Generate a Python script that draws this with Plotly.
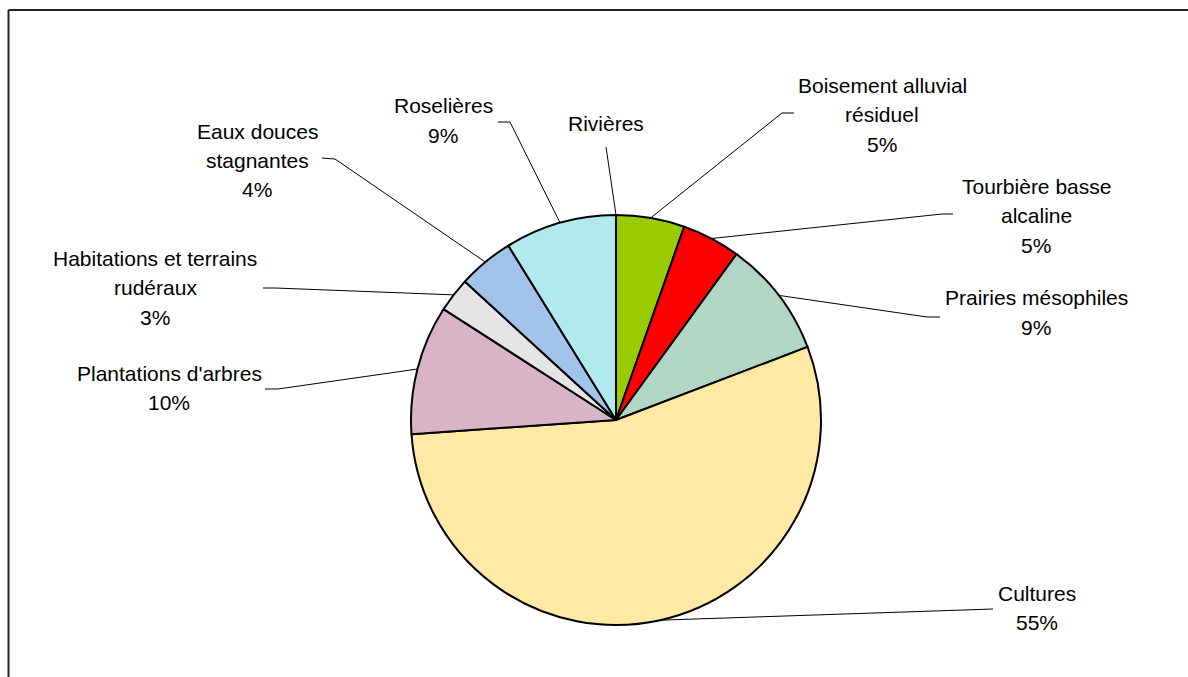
import math
import plotly.graph_objects as go

# ---------------- data ----------------
categories = [
    "Rivières",
    "Boisement alluvial résiduel",
    "Tourbière basse alcaline",
    "Prairies mésophiles",
    "Cultures",
    "Plantations d'arbres",
    "Habitations et terrains rudéraux",
    "Eaux douces stagnantes",
    "Roselières",
]
values = [0.0, 5.4, 4.6, 9.2, 54.7, 10.2, 2.7, 4.4, 8.8]
show_percent = [False, True, True, True, True, True, True, True, True]
label_lines = [
    ["Rivières"],
    ["Boisement alluvial", "résiduel"],
    ["Tourbière basse", "alcaline"],
    ["Prairies mésophiles"],
    ["Cultures"],
    ["Plantations d'arbres"],
    ["Habitations et terrains", "rudéraux"],
    ["Eaux douces", "stagnantes"],
    ["Roselières"],
]
colors = ["#9DD0EC", "#99CC00", "#FF0000", "#B2D6C6", "#FFE9A5",
          "#D9B3C6", "#E5E5E5", "#A2C4EA", "#B1E9EC"]

# ---------------- layout constants (screen pixels) ----------------
W, H = 1188, 677
CX, CY, R = 616, 420, 205
FONT = dict(family="Liberation Sans, Arial, sans-serif", size=21, color="black")
LINE_GAP = 29.5

# label text centre x, first line centre y, leader-line start points (label side)
label_pos = [
    (606, 123, [(606, 147)]),
    (882, 85, [(794, 113), (782, 113)]),
    (1036, 186, [(953, 214), (942, 214)]),
    (1036, 298, [(940, 317), (927, 317)]),
    (1037, 593, [(993, 609)]),
    (169, 373, [(265, 389), (278, 389)]),
    (155, 258, [(263, 288), (275, 288)]),
    (257, 131, [(322, 158), (335, 159)]),
    (443, 106, [(498, 122), (510, 122)]),
]


def px(x):
    return x / W


def py(y):
    return 1 - y / H


total = sum(values)

fig = go.Figure(
    go.Pie(
        labels=categories,
        values=values,
        sort=False,
        direction="clockwise",
        rotation=0,
        marker=dict(colors=colors, line=dict(color="black", width=2)),
        textinfo="none",
        hoverinfo="label+percent",
        domain=dict(x=[px(CX - R), px(CX + R)], y=[py(CY + R), py(CY - R)]),
        showlegend=False,
    )
)

annotations = []
shapes = []
cum = 0.0
for i, v in enumerate(values):
    theta = 2 * math.pi * (cum + v / 2) / total
    cum += v
    ex = CX + R * math.sin(theta)
    ey = CY - R * math.cos(theta)

    lines = list(label_lines[i])
    if show_percent[i]:
        lines.append(f"{round(v / total * 100)}%")
    tx, ty, pts = label_pos[i]
    for k, ln in enumerate(lines):
        annotations.append(dict(
            x=px(tx), y=py(ty + k * LINE_GAP), xref="paper", yref="paper",
            text=ln, showarrow=False, xanchor="center", yanchor="middle",
            font=FONT,
        ))
    path_pts = pts + [(ex, ey)]
    for (x0, y0), (x1, y1) in zip(path_pts[:-1], path_pts[1:]):
        shapes.append(dict(
            type="line", xref="paper", yref="paper",
            x0=px(x0), y0=py(y0), x1=px(x1), y1=py(y1),
            line=dict(color="black", width=1),
        ))

# chart-area border: only its top and left edges fall inside the picture
border = dict(color="#222222", width=2)
shapes.append(dict(type="line", xref="paper", yref="paper",
                   x0=px(8.5), y0=py(10), x1=1.0, y1=py(10), line=border))
shapes.append(dict(type="line", xref="paper", yref="paper",
                   x0=px(8.5), y0=py(10), x1=px(8.5), y1=0.0, line=border))

fig.update_layout(
    width=W, height=H,
    margin=dict(l=0, r=0, t=0, b=0),
    paper_bgcolor="white", plot_bgcolor="white",
    annotations=annotations, shapes=shapes,
    font=FONT,
)

fig.write_html(
    "out.html",
    config={"displayModeBar": False},
    post_script="document.body.style.margin='0';document.body.style.overflow='hidden';",
)
